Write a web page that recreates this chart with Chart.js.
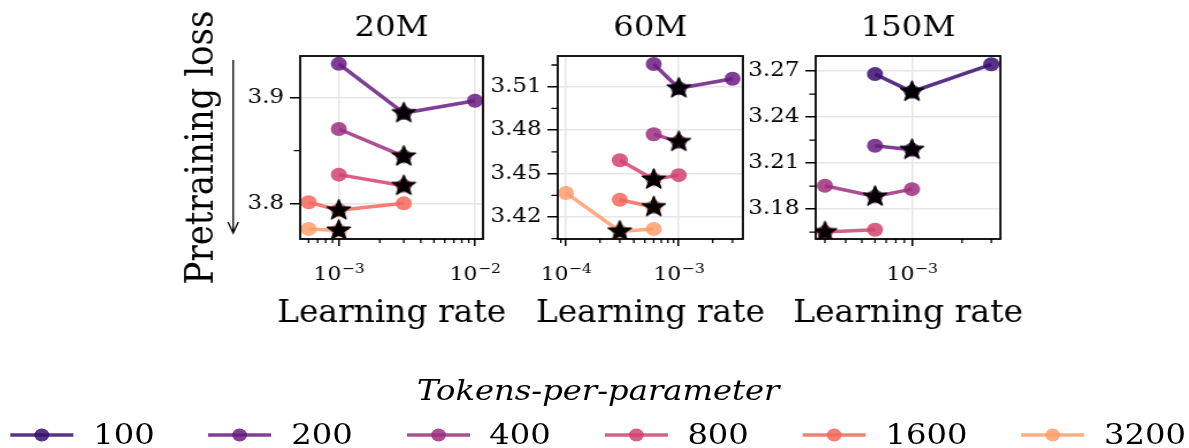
<!DOCTYPE html>
<html>
<head>
<meta charset="utf-8">
<script src="https://cdn.jsdelivr.net/npm/chart.js@4/dist/chart.umd.min.js"></script>
<style>
  html, body { margin: 0; padding: 0; background: #fff; overflow: hidden; }
  #stage { position: absolute; left: 0; top: 0; height: 448px; transform-origin: 0 0; }
  .panel { position: absolute; top: 0; }
  #legendTitle { position: absolute; top: 374px; font: italic 28px 'DejaVu Serif', serif; line-height: 33.6px; white-space: nowrap; transform: translateX(-50%); }
  #legendRow { position: absolute; top: 418px; height: 34px; display: flex; align-items: center; white-space: nowrap; transform: translateX(-50%); }
  .item { display: flex; align-items: center; font: 28px 'DejaVu Serif', serif; line-height: 33.6px; }
</style>
</head>
<body>
<div id="stage">
  <div class="panel" id="p0"><canvas id="c0"></canvas></div>
  <div class="panel" id="p1"><canvas id="c1"></canvas></div>
  <div class="panel" id="p2"><canvas id="c2"></canvas></div>
  <div id="legendTitle">Tokens-per-parameter</div>
  <div id="legendRow"></div>
</div>
<script>
// ---- data -------------------------------------------------------------
const MODEL_SIZES = ['20M', '60M', '150M'];
const TOKENS_PER_PARAM = ['100', '200', '400', '800', '1600', '3200'];
const TPP_COLORS = ['rgba(59,15,112,0.85)', 'rgba(106,28,129,0.85)', 'rgba(158,47,127,0.85)',
                    'rgba(211,67,110,0.85)', 'rgba(244,105,92,0.85)', 'rgba(254,159,109,0.85)'];

// 20M: learning rate sweep and final pretraining loss, per tokens-per-parameter
const lr_20M_200 = [1e-3, 3e-3, 1e-2];        const loss_20M_200 = [3.9316, 3.8854, 3.8970];
const lr_20M_400 = [1e-3, 3e-3];              const loss_20M_400 = [3.8704, 3.8446];
const lr_20M_800 = [1e-3, 3e-3];              const loss_20M_800 = [3.8275, 3.8170];
const lr_20M_1600 = [6e-4, 1e-3, 3e-3];       const loss_20M_1600 = [3.8015, 3.7940, 3.8005];
const lr_20M_3200 = [6e-4, 1e-3];             const loss_20M_3200 = [3.7765, 3.7750];
// 60M
const lr_60M_200 = [6e-4, 1e-3, 3e-3];        const loss_60M_200 = [3.5257, 3.5089, 3.5155];
const lr_60M_400 = [6e-4, 1e-3];              const loss_60M_400 = [3.4772, 3.4719];
const lr_60M_800 = [3e-4, 6e-4, 1e-3];        const loss_60M_800 = [3.4592, 3.4459, 3.4489];
const lr_60M_1600 = [3e-4, 6e-4];             const loss_60M_1600 = [3.4319, 3.4269];
const lr_60M_3200 = [1e-4, 3e-4, 6e-4];       const loss_60M_3200 = [3.4366, 3.4101, 3.4117];
// 150M
const lr_150M_100 = [6e-4, 1e-3, 3e-3];       const loss_150M_100 = [3.2680, 3.2565, 3.2744];
const lr_150M_200 = [6e-4, 1e-3];             const loss_150M_200 = [3.2213, 3.2187];
const lr_150M_400 = [3e-4, 6e-4, 1e-3];       const loss_150M_400 = [3.1952, 3.1882, 3.1930];
const lr_150M_800 = [3e-4, 6e-4];             const loss_150M_800 = [3.1650, 3.1665];

// axis limits and ticks
const X_LIMITS = [[5.2e-4, 1.146e-2], [8.45e-5, 3.71e-3], [2.64e-4, 3.40e-3]];
const Y_LIMITS = [[3.767, 3.939], [3.4048, 3.5312], [3.1605, 3.2798]];
const X_TICKS = [[1e-3, 1e-2], [1e-4, 1e-3], [1e-3]];
const X_TICK_EXPONENTS = [['−3', '−2'], ['−4', '−3'], ['−3']];
const Y_TICKS = [[3.8, 3.9], [3.42, 3.45, 3.48, 3.51], [3.18, 3.21, 3.24, 3.27]];
const Y_TICK_LABELS = [['3.8', '3.9'], ['3.42', '3.45', '3.48', '3.51'], ['3.18', '3.21', '3.24', '3.27']];
const Y_MINOR = [[3.85], [3.405, 3.435, 3.465, 3.495, 3.525], [3.165, 3.195, 3.225, 3.255]];

const PANEL_SERIES = [
  [['200', lr_20M_200, loss_20M_200], ['400', lr_20M_400, loss_20M_400], ['800', lr_20M_800, loss_20M_800],
   ['1600', lr_20M_1600, loss_20M_1600], ['3200', lr_20M_3200, loss_20M_3200]],
  [['200', lr_60M_200, loss_60M_200], ['400', lr_60M_400, loss_60M_400], ['800', lr_60M_800, loss_60M_800],
   ['1600', lr_60M_1600, loss_60M_1600], ['3200', lr_60M_3200, loss_60M_3200]],
  [['100', lr_150M_100, loss_150M_100], ['200', lr_150M_200, loss_150M_200],
   ['400', lr_150M_400, loss_150M_400], ['800', lr_150M_800, loss_150M_800]]
];

// ---- layout ----------------------------------------------------------
const S = 1.15;                       // horizontal stretch of the whole figure
const W = 1189 / S;
const FONT = "'DejaVu Serif', 'Liberation Serif', serif";
const PLOT_TOP = 56, PLOT_BOTTOM = 239, CANVAS_H = 340;
const PLOT_X = [[300, 483], [557.7, 743.3], [815.7, 1000]].map(p => p.map(v => v / S));
const Y_AXIS_W = [112, 78, 78];
const RIGHT_PAD = 30;
const TITLE_SIZE = 28, TICK_SIZE = 20;

Chart.defaults.font.family = FONT;
Chart.defaults.color = '#000';

const stage = document.getElementById('stage');
stage.style.width = W + 'px';
stage.style.transform = 'scaleX(' + S + ')';

function starImage(r) {
  const size = Math.ceil(r * 2 + 4);
  const c = document.createElement('canvas');
  c.width = c.height = size;
  const g = c.getContext('2d');
  g.translate(size / 2, size / 2);
  g.beginPath();
  for (let k = 0; k < 10; k++) {
    const rr = k % 2 ? r * 0.4 : r;
    const a = -Math.PI / 2 + k * Math.PI / 5;
    g.lineTo(rr * Math.cos(a), rr * Math.sin(a));
  }
  g.closePath();
  g.fillStyle = '#000';
  g.fill();
  g.lineWidth = 1.5;
  g.lineJoin = 'round';
  g.strokeStyle = '#000';
  g.stroke();
  return c;
}
const STAR = starImage(10.5);

// frame around the plotting area
const framePlugin = {
  id: 'frame',
  afterDatasetsDraw(chart) {
    const {ctx, chartArea: a} = chart;
    ctx.save();
    ctx.strokeStyle = '#000';
    ctx.lineWidth = 1.8;
    ctx.strokeRect(a.left, a.top, a.right - a.left, a.bottom - a.top);
    ctx.restore();
  }
};
// short unlabelled ticks between the major ones
const minorTickPlugin = {
  id: 'minorTicks',
  afterDraw(chart, args, opts) {
    const {ctx, chartArea: a, scales} = chart;
    ctx.save();
    ctx.strokeStyle = '#000';
    ctx.lineWidth = 1.3;
    ctx.beginPath();
    (opts.y || []).forEach(v => {
      const py = scales.y.getPixelForValue(v);
      if (py < a.top - 0.5 || py > a.bottom + 0.5) return;
      ctx.moveTo(a.left - 5.5, py); ctx.lineTo(a.left, py);
    });
    const lo = scales.x.min, hi = scales.x.max;
    for (let e = Math.floor(Math.log10(lo)); e <= Math.ceil(Math.log10(hi)); e++) {
      for (let k = 2; k <= 9; k++) {
        const v = k * Math.pow(10, e);
        if (v < lo || v > hi) continue;
        const px = scales.x.getPixelForValue(v);
        ctx.moveTo(px, a.bottom); ctx.lineTo(px, a.bottom + 4);
      }
    }
    ctx.stroke();
    ctx.restore();
  }
};
// "10" with a raised exponent under each major learning-rate tick, and the axis name
const xLabelPlugin = {
  id: 'xLabels',
  afterDraw(chart, args, opts) {
    const {ctx, scales, chartArea: a} = chart;
    const baseFont = '19px ' + FONT, expFont = '13.5px ' + FONT;
    ctx.save();
    ctx.fillStyle = '#000';
    ctx.textAlign = 'left';
    ctx.textBaseline = 'alphabetic';
    opts.ticks.forEach((v, i) => {
      const exp = opts.exponents[i];
      ctx.font = baseFont; const wb = ctx.measureText('10').width;
      ctx.font = expFont; const we = ctx.measureText(exp).width;
      const left = scales.x.getPixelForValue(v) - (wb + we) / 2;
      ctx.font = baseFont; ctx.fillText('10', left, opts.baseline);
      ctx.font = expFont; ctx.fillText(exp, left + wb + 0.5, opts.baseline - 7);
    });
    ctx.font = '32px ' + FONT;
    ctx.textAlign = 'center';
    ctx.fillText(opts.title, (a.left + a.right) / 2, opts.titleBaseline, opts.titleWidth);
    ctx.restore();
  }
};
// "lower is better" arrow beside the loss axis
const arrowPlugin = {
  id: 'arrow',
  afterDraw(chart, args, opts) {
    if (!opts.show) return;
    const {ctx} = chart;
    const x = opts.x, y0 = opts.y0, y1 = opts.y1;
    ctx.save();
    ctx.strokeStyle = '#000';
    ctx.lineWidth = 1.3;
    ctx.beginPath();
    ctx.moveTo(x, y0); ctx.lineTo(x, y1);
    ctx.moveTo(x - 4.5, y1 - 11); ctx.lineTo(x, y1); ctx.lineTo(x + 4.5, y1 - 11);
    ctx.stroke();
    ctx.restore();
  }
};

function argmin(arr) {
  let best = 0;
  arr.forEach((v, i) => { if (v < arr[best]) best = i; });
  return best;
}

MODEL_SIZES.forEach((size, p) => {
  const [plotL, plotR] = PLOT_X[p];
  const canvasL = plotL - Y_AXIS_W[p];
  const canvasW = Y_AXIS_W[p] + (plotR - plotL) + RIGHT_PAD;
  document.getElementById('p' + p).style.left = canvasL + 'px';
  const canvas = document.getElementById('c' + p);
  canvas.width = canvasW;
  canvas.height = CANVAS_H;
  canvas.style.width = canvasW + 'px';
  canvas.style.height = CANVAS_H + 'px';

  const datasets = PANEL_SERIES[p].map(([tpp, lr, loss]) => {
    const color = TPP_COLORS[TOKENS_PER_PARAM.indexOf(tpp)];
    return {
      label: tpp,
      data: lr.map((x, i) => ({x, y: loss[i]})),
      showLine: true,
      borderColor: color,
      backgroundColor: color,
      borderWidth: 3.5,
      pointRadius: 7,
      pointHoverRadius: 7,
      pointBorderWidth: 0,
      order: 1
    };
  });
  // best learning rate of each sweep
  datasets.push({
    label: 'best',
    data: PANEL_SERIES[p].map(([tpp, lr, loss]) => {
      const i = argmin(loss);
      return {x: lr[i], y: loss[i]};
    }),
    showLine: false,
    pointStyle: STAR,
    pointRadius: 10,
    pointHoverRadius: 10,
    backgroundColor: '#000',
    borderColor: '#000',
    borderWidth: 0,
    order: 0
  });

  new Chart(canvas, {
    type: 'scatter',
    data: {datasets},
    plugins: [framePlugin, minorTickPlugin, xLabelPlugin, arrowPlugin],
    options: {
      responsive: false,
      animation: false,
      events: [],
      layout: {padding: {left: 0, right: RIGHT_PAD, top: 0, bottom: 0}},
      plugins: {
        legend: {display: false},
        tooltip: {enabled: false},
        title: {
          display: true, text: size, fullSize: false, color: '#000',
          font: {family: FONT, size: TITLE_SIZE, weight: 'normal'},
          padding: {top: 12.4, bottom: PLOT_TOP - 12.4 - TITLE_SIZE * 1.2}
        },
        minorTicks: {y: Y_MINOR[p]},
        xLabels: {ticks: X_TICKS[p], exponents: X_TICK_EXPONENTS[p], baseline: 280,
                  title: 'Learning rate', titleBaseline: 322, titleWidth: 229 / S},
        arrow: {show: p === 0, x: 233 / S - canvasL, y0: 60, y1: 233}
      },
      scales: {
        x: {
          type: 'logarithmic',
          position: 'bottom',
          min: X_LIMITS[p][0], max: X_LIMITS[p][1],
          afterBuildTicks: s => { s.ticks = X_TICKS[p].map(v => ({value: v})); },
          afterFit: s => { s.height = CANVAS_H - PLOT_BOTTOM; },
          ticks: {display: true, maxRotation: 0, autoSkip: false, callback: () => ''},
          grid: {color: '#e6e6e6', lineWidth: 1.5, tickLength: 7, tickColor: '#000', tickWidth: 1.5},
          border: {display: false}
        },
        y: {
          type: 'linear',
          position: 'left',
          min: Y_LIMITS[p][0], max: Y_LIMITS[p][1],
          afterBuildTicks: s => { s.ticks = Y_TICKS[p].map(v => ({value: v})); },
          afterFit: s => { s.width = Y_AXIS_W[p]; },
          ticks: {
            font: {family: FONT, size: TICK_SIZE}, color: '#000', padding: 5,
            callback: (v) => Y_TICK_LABELS[p][Y_TICKS[p].findIndex(t => Math.abs(t - v) < 1e-9)] ?? ''
          },
          grid: {color: '#e6e6e6', lineWidth: 1.5, tickLength: 9, tickColor: '#000', tickWidth: 1.5},
          border: {display: false},
          title: {display: p === 0, text: 'Pretraining loss', color: '#000',
                  font: {family: FONT, size: 34}, padding: {top: 202 / S - canvasL - 34 * 0.6, bottom: 0}}
        }
      }
    }
  });
});

// ---- legend ------------------------------------------------------------
const legendCenter = 598.3 / S;
document.getElementById('legendTitle').style.left = legendCenter + 'px';
const row = document.getElementById('legendRow');
row.style.left = legendCenter + 'px';
const HANDLE_W = 63 / S, TEXT_GAP = 17, COL_GAP = 47;
TOKENS_PER_PARAM.forEach((tpp, i) => {
  const item = document.createElement('div');
  item.className = 'item';
  if (i > 0) item.style.marginLeft = COL_GAP + 'px';
  const c = TPP_COLORS[i];
  item.innerHTML =
    '<svg width="' + HANDLE_W + '" height="20" style="margin-right:' + TEXT_GAP + 'px;overflow:visible">' +
    '<line x1="0" y1="10" x2="' + HANDLE_W + '" y2="10" stroke="' + c + '" stroke-width="3.5"/>' +
    '<circle cx="' + HANDLE_W / 2 + '" cy="10" r="6.5" fill="' + c + '"/></svg>' +
    '<span>' + tpp + '</span>';
  row.appendChild(item);
});
</script>
</body>
</html>
